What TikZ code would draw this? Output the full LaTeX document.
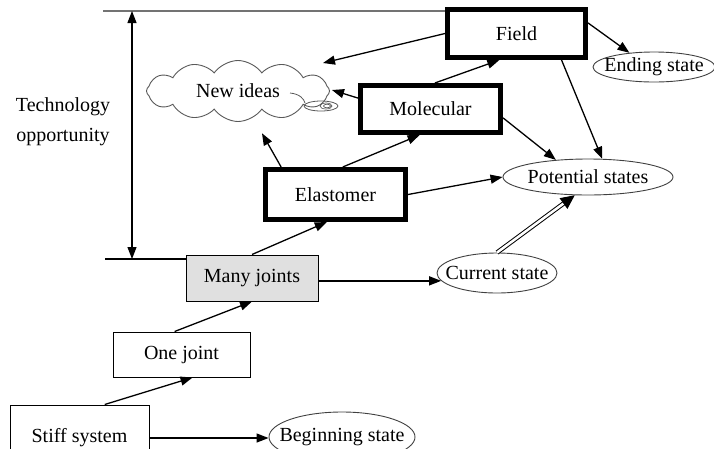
\documentclass[tikz,border=0pt]{standalone}
\usepackage{fontspec}
\setmainfont{Liberation Serif}
\usetikzlibrary{arrows.meta,shapes.geometric,shapes.symbols,calc}
\begin{document}
\begin{tikzpicture}[x=1pt,y=-1pt,
  font=\fontsize{20}{24}\selectfont,
  boxA/.style={rectangle, draw, line width=5pt, inner sep=0pt},
  boxB/.style={rectangle, draw, line width=1pt, inner sep=0pt},
  state/.style={ellipse, draw=black!75, line width=0.9pt, inner sep=0pt},
  conn/.style={line width=1.3pt, -{Triangle[length=12pt,width=9pt]}},
  dbl/.style={double, double distance=2.5pt, line width=1pt, -{Triangle[length=14pt,width=13pt]}},
  tip/.tip={Triangle[length=12pt,width=9pt]}]
\useasboundingbox (0,0) rectangle (714,448);
\clip (0,0) rectangle (714,448);

% boxes
\node[boxA, minimum width=138pt, minimum height=48pt] (fi) at (516.5,33.5) {Field\hspace{18pt}};
\node[boxA, minimum width=140pt, minimum height=47pt] (mo) at (430.5,109) {Molecular};
\node[boxA, minimum width=140pt, minimum height=50pt] (el) at (335.5,194.5) {Elastomer};
\node[boxB, fill=black!12, minimum width=132pt, minimum height=46pt] (mj) at (252,278) {Many joints};
\node[boxB, minimum width=137pt, minimum height=45pt] (oj) at (181.5,354.5) {One joint};
\node[boxB, minimum width=139pt, minimum height=66pt] (ss) at (79.5,438) {Stiff system};

% states
\node[state, minimum width=120pt, minimum height=40pt, label=center:{Current state}] (cs) at (497,273) {};
\node[state, minimum width=170pt, minimum height=36pt, label=center:{Potential states}] (ps) at (588,177) {};
\node[state, minimum width=122pt, minimum height=30pt, label=center:{Ending state}] (es) at (654,67) {};
\node[state, minimum width=146pt, minimum height=50pt, label=center:{Beginning state}] (bs) at (342,437) {};

% cloud
\node[cloud, draw=black!65, line width=0.9pt, cloud puffs=12, cloud puff arc=110, cloud ignores aspect,
      minimum width=183pt, minimum height=61pt, inner sep=0pt, label=center:{New ideas}] (ni) at (238,91) {};
\draw[black!65, line width=0.8pt] (290,93) .. controls (300,94) and (304,99) .. (305,103);
\draw[black!65, line width=0.8pt] (321,106) ellipse [x radius=17, y radius=5];
\draw[black!65, line width=0.7pt] (326,106) ellipse [x radius=6, y radius=3];
\draw[black!65, line width=0.7pt] (327,106) ellipse [x radius=3.5, y radius=1.8];

% technology opportunity
\coordinate (tl) at (103,11);
\coordinate (bl) at (105,259);
\coordinate (va1) at (132,11);
\coordinate (va2) at (132,259);
\draw[black!55, line width=1.2pt] (tl) -- (tl -| fi.west);
\draw[line width=1.2pt] (bl) -- (bl -| mj.west);
\draw[line width=1.2pt, {tip}-{tip}] (va1) -- (va2);
\node[align=center, font=\fontsize{20}{30}\selectfont] (to) at (63,122) {Technology\\opportunity};

% connectors
\draw[conn] ($(ss.north west)!0.68!(ss.north east)$) -- ($(oj.south west)!0.58!(oj.south east)$);
\draw[conn] ($(oj.north west)!0.45!(oj.north east)$) -- (mj.south);
\draw[conn] (ss.east) -- (ss.east -| bs.west);
\draw[conn] (mj.north) -- ($(el.south west)!0.44!(el.south east)$);
\draw[conn] (mj.east |- cs.188) -- (cs.188);
\draw[dbl] (cs.north) -- (ps.234);
\draw[conn] (el.east) -- (ps.west);
\coordinate (elA) at ($(el.north west)!0.125!(el.north east)$);
\draw[conn] (elA) -- ($(ni.center)!0.556!(elA)$);
\draw[conn] ($(el.north west)!0.55!(el.north east)$) -- ($(mo.south west)!0.425!(mo.south east)$);
\draw[conn] ($(mo.north west)!0.29!(mo.south west)$) -- ($(ni.center)+(94,-1)$);
\draw[conn] ($(mo.north west)!0.53!(mo.north east)$) -- ($(fi.south west)!0.38!(fi.south east)$);
\draw[conn] (fi.west) -- ($(ni.center)+(85,-28)$);
\draw[conn] ($(fi.north east)!0.3!(fi.south east)$) -- (es.150);
\draw[conn] ($(fi.south west)!0.815!(fi.south east)$) -- (ps.52);
\draw[conn] ($(mo.north east)!0.67!(mo.south east)$) -- (ps.152);
\end{tikzpicture}
\end{document}
